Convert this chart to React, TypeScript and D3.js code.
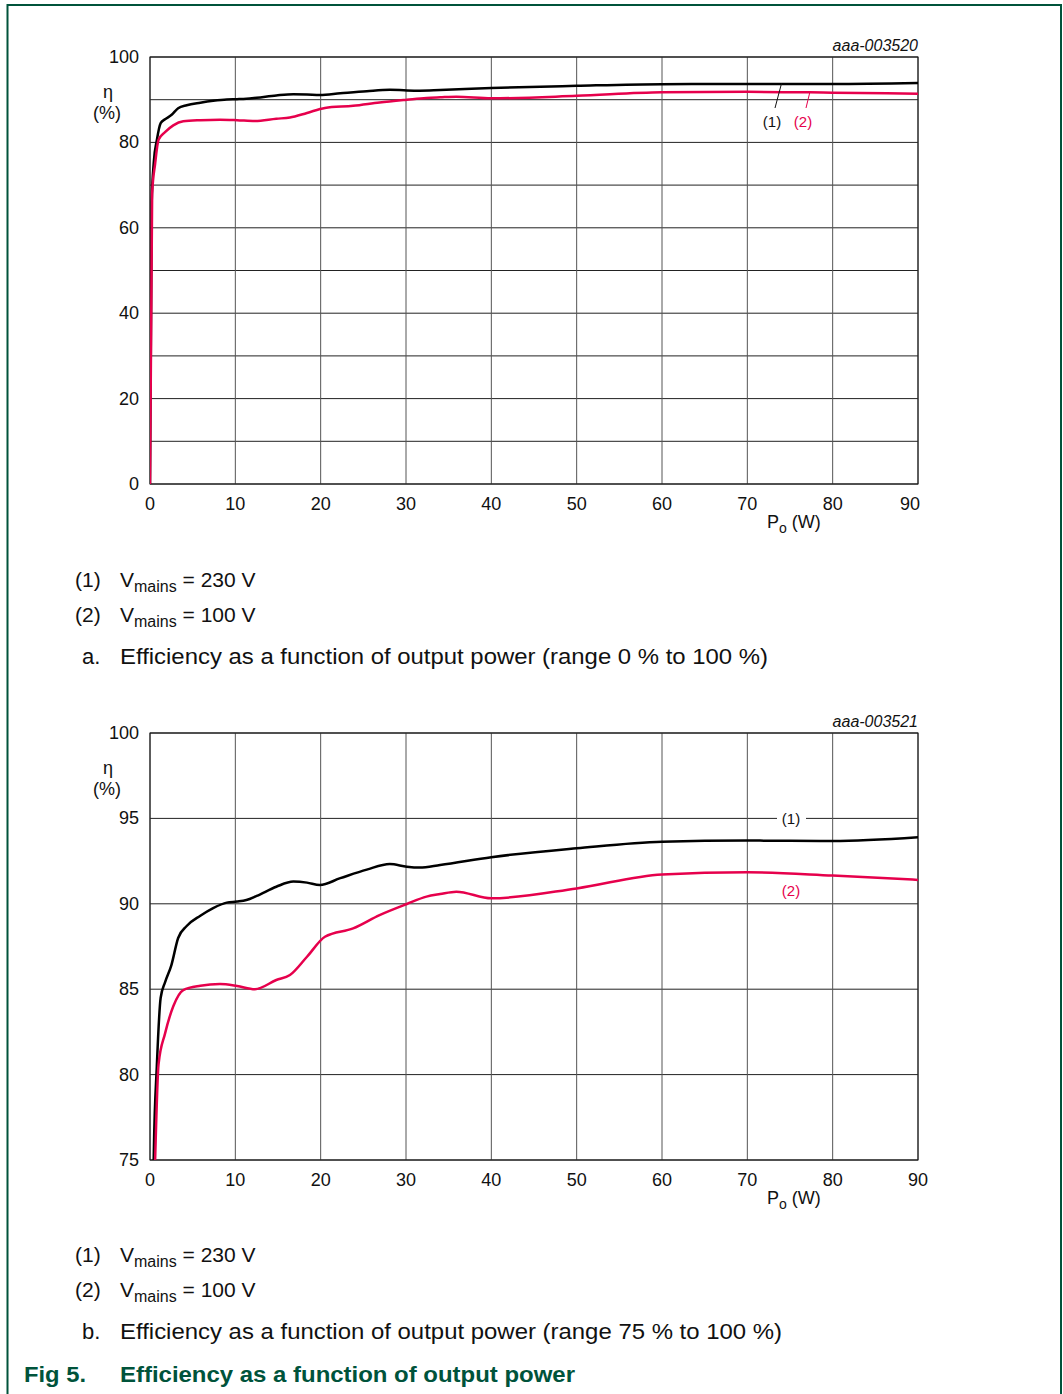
import * as d3 from 'd3';

// output power (W) and efficiency (%)
const p230 = [0, 0.2, 0.45, 0.8, 1.25, 1.76, 2.5, 3.3, 4.3, 5.9, 7.4, 9, 10.2, 11.3, 12.5, 14.8, 16.8, 18.4, 19.9, 22.3, 25.4, 28.1, 30.1, 31.6, 34, 40, 50, 60, 70, 80, 90];
const eta230 = [0, 66, 75.5, 80.5, 84.5, 85.4, 86.4, 88.0, 88.7, 89.3, 89.75, 90.07, 90.13, 90.22, 90.46, 91.0, 91.3, 91.24, 91.1, 91.5, 92.0, 92.33, 92.17, 92.12, 92.27, 92.73, 93.25, 93.64, 93.7, 93.68, 93.9];

const p100 = [0, 0.25, 0.6, 1.0, 1.76, 2.73, 3.9, 5.9, 8.2, 10.2, 12.3, 14.8, 16.4, 18.4, 20.5, 23.8, 26.9, 30.1, 32.4, 34, 35.9, 40, 50, 60, 70, 80, 90];
const eta100 = [0, 68, 75, 80.6, 82.4, 84.0, 84.95, 85.2, 85.3, 85.19, 85.0, 85.54, 85.83, 86.9, 88.07, 88.56, 89.34, 89.99, 90.42, 90.57, 90.71, 90.32, 90.9, 91.72, 91.84, 91.65, 91.4];

const xTicks = [0, 10, 20, 30, 40, 50, 60, 70, 80, 90];
const yTicksA = [0, 10, 20, 30, 40, 50, 60, 70, 80, 90, 100];
const yLabelsA = [0, 20, 40, 60, 80, 100];
const yTicksB = [75, 80, 85, 90, 95, 100];

const legendLines = [
  { id: '(1)', volts: '230 V' },
  { id: '(2)', volts: '100 V' },
];

const FONT = '"Liberation Sans", Arial, sans-serif';
const RED = '#e6004c';
const GREEN = '#00533b';

const s230 = p230.map((p, i) => [p, eta230[i]] as [number, number]);
const s100 = p100.map((p, i) => [p, eta100[i]] as [number, number]);

interface ChartProps {
  top: number;
  yDomain: [number, number];
  yGrid: number[];
  yLabels: number[];
  code: string;
  variant: 'a' | 'b';
}

function Chart({ top, yDomain, yGrid, yLabels, code, variant }: ChartProps) {
  const left = 150, right = 918, bottom = top + 427;
  const x = d3.scaleLinear().domain([0, 90]).range([left, right]);
  const y = d3.scaleLinear().domain(yDomain).range([bottom, top]);
  const line = d3.line<[number, number]>()
    .x(d => x(d[0]))
    .y(d => y(d[1]))
    .curve(d3.curveMonotoneX);
  const clipId = 'clip-' + variant;

  return (
    <g>
      <defs>
        <clipPath id={clipId}>
          <rect x={left} y={top} width={right - left} height={bottom - top} />
        </clipPath>
      </defs>
      {yGrid.map(v => (
        <line key={'h' + v} x1={left} x2={right} y1={y(v)} y2={y(v)} stroke="#222" strokeWidth={1} />
      ))}
      {xTicks.map(v => (
        <line key={'v' + v} x1={x(v)} x2={x(v)} y1={top} y2={bottom} stroke="#555" strokeWidth={1} />
      ))}
      <rect x={left} y={top} width={right - left} height={bottom - top} fill="none" stroke="#111" strokeWidth={1} />

      {variant === 'b' && (
        <g fontFamily={FONT} fontSize={15}>
          <rect x={777} y={y(95) - 8} width={29} height={16} fill="#fff" />
          <text x={791} y={y(95) + 6} textAnchor="middle" fill="#111">(1)</text>
          <text x={791} y={y(90.8) + 6} textAnchor="middle" fill={RED}>(2)</text>
        </g>
      )}

      <g clipPath={`url(#${clipId})`}>
        <path d={line(s230) ?? ''} fill="none" stroke="#000" strokeWidth={2.5} strokeLinejoin="round" />
        <path d={line(s100) ?? ''} fill="none" stroke={RED} strokeWidth={2.5} strokeLinejoin="round" />
      </g>

      {variant === 'a' && (
        <g fontFamily={FONT} fontSize={15}>
          <line x1={775} y1={top + 51} x2={781.5} y2={y(93.8)} stroke="#111" strokeWidth={1} />
          <line x1={806} y1={top + 51} x2={810} y2={y(91.9)} stroke={RED} strokeWidth={1} />
          <text x={772} y={top + 70} textAnchor="middle" fill="#111">(1)</text>
          <text x={803} y={top + 70} textAnchor="middle" fill={RED}>(2)</text>
        </g>
      )}

      <text x={right} y={top - 6} textAnchor="end" fontFamily={FONT} fontSize={16} fontStyle="italic" fill="#111">{code}</text>

      <g fontFamily={FONT} fontSize={18} fill="#111">
        {yLabels.map(v => (
          <text key={'yl' + v} x={139} y={y(v) + 6} textAnchor="end">{v}</text>
        ))}
        {xTicks.map(v => (
          <text key={'xl' + v} x={x(v) - (variant === 'a' && v === 90 ? 8 : 0)} y={bottom + 26} textAnchor="middle">{v}</text>
        ))}
        <text x={108} y={top + 41} textAnchor="middle">η</text>
        <text x={107} y={top + 62} textAnchor="middle">(%)</text>
        <text x={767} y={bottom + 44}>
          P<tspan fontSize={14} dy={5}>o</tspan><tspan dy={-5}> (W)</tspan>
        </text>
      </g>
    </g>
  );
}

function Legend({ top, caption, letter, width }: { top: number; caption: string; letter: string; width: number }) {
  return (
    <g fontFamily={FONT} fontSize={21} fill="#111">
      {legendLines.map((l, i) => (
        <g key={l.id}>
          <text x={75} y={top + i * 35 + 7}>{l.id}</text>
          <text x={120} y={top + i * 35 + 7}>
            V<tspan fontSize={16} dy={5}>mains</tspan><tspan dy={-5}> = {l.volts}</tspan>
          </text>
        </g>
      ))}
      <text x={82} y={top + 84} fontSize={22}>{letter}</text>
      <text x={120} y={top + 84} fontSize={22} textLength={width} lengthAdjust="spacingAndGlyphs">{caption}</text>
    </g>
  );
}

export default function App() {
  return (
    <svg width={1063} height={1394} style={{ position: 'absolute', left: 0, top: 0, background: '#fff' }}>
      <rect x={0} y={0} width={1063} height={1394} fill="#fff" />
      <path d="M7.5,1394 V5 H1061 V1394" fill="none" stroke={GREEN} strokeWidth={2} />

      <Chart top={57} yDomain={[0, 100]} yGrid={yTicksA} yLabels={yLabelsA} code="aaa-003520" variant="a" />
      <Legend top={580} letter="a." width={648} caption="Efficiency as a function of output power (range 0 % to 100 %)" />

      <Chart top={733} yDomain={[75, 100]} yGrid={yTicksB} yLabels={yTicksB} code="aaa-003521" variant="b" />
      <Legend top={1255} letter="b." width={662} caption="Efficiency as a function of output power (range 75 % to 100 %)" />

      <text x={24} y={1382} fontFamily={FONT} fontSize={22} fontWeight="bold" fill={GREEN} textLength={62} lengthAdjust="spacingAndGlyphs">Fig 5.</text>
      <text x={120} y={1382} fontFamily={FONT} fontSize={22} fontWeight="bold" fill={GREEN} textLength={455} lengthAdjust="spacingAndGlyphs">Efficiency as a function of output power</text>
    </svg>
  );
}
